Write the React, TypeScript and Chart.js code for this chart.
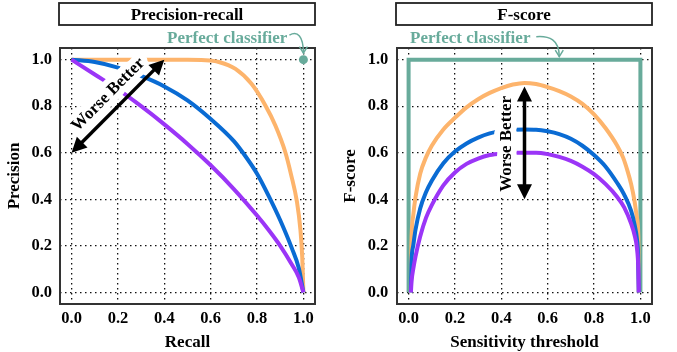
import React, { useEffect, useRef } from 'react';
import { Chart, registerables } from 'chart.js';

Chart.register(...registerables);

// ---------- data ----------
const tickValues = [0, 0.2, 0.4, 0.6, 0.8, 1.0];

// Precision-recall panel
const recallOrange = [0, 0.3, 0.5, 0.56, 0.635, 0.707, 0.776, 0.836, 0.879, 0.922, 0.947, 0.972, 0.987, 0.995, 1.0];
const precisionOrange = [1.0, 1.0, 1.0, 0.998, 0.99, 0.96, 0.896, 0.803, 0.717, 0.602, 0.505, 0.39, 0.27, 0.15, 0.0];
const recallBlue = [0, 0.1, 0.2, 0.3, 0.4, 0.5, 0.6, 0.7, 0.75, 0.8, 0.85, 0.9, 0.95, 0.98, 1.0];
const precisionBlue = [1.0, 0.99, 0.966, 0.93, 0.885, 0.825, 0.745, 0.65, 0.585, 0.51, 0.415, 0.31, 0.19, 0.105, 0.0];
const recallPurple = [0, 0.1, 0.2, 0.3, 0.4, 0.5, 0.6, 0.7, 0.8, 0.85, 0.9, 0.95, 0.98, 1.0];
const precisionPurple = [1.0, 0.936, 0.872, 0.8, 0.722, 0.638, 0.546, 0.444, 0.33, 0.268, 0.2, 0.12, 0.065, 0.0];
const perfectRecall = [1.0];
const perfectPrecision = [1.0];

// F-score panel
const thresholdOrange = [0.01, 0.012, 0.02, 0.03, 0.05, 0.075, 0.1, 0.15, 0.2, 0.25, 0.3, 0.35, 0.4, 0.45, 0.5,
  0.55, 0.6, 0.65, 0.7, 0.75, 0.8, 0.85, 0.9, 0.925, 0.945, 0.96, 0.975, 0.985, 0.991, 0.993];
const fOrange = [0, 0.2, 0.33, 0.41, 0.51, 0.58, 0.63, 0.7, 0.75, 0.795, 0.83, 0.857, 0.878, 0.893, 0.9,
  0.895, 0.882, 0.865, 0.842, 0.81, 0.765, 0.705, 0.63, 0.58, 0.52, 0.465, 0.39, 0.32, 0.24, 0];
const thresholdBlue = [0.01, 0.012, 0.02, 0.03, 0.05, 0.075, 0.1, 0.15, 0.2, 0.25, 0.3, 0.35, 0.4, 0.45, 0.5,
  0.55, 0.6, 0.65, 0.7, 0.75, 0.8, 0.85, 0.9, 0.93, 0.96, 0.975, 0.985, 0.99, 0.993];
const fBlue = [0, 0.12, 0.2, 0.27, 0.36, 0.43, 0.48, 0.555, 0.605, 0.64, 0.665, 0.683, 0.694, 0.699, 0.7,
  0.699, 0.692, 0.68, 0.66, 0.63, 0.59, 0.54, 0.47, 0.42, 0.35, 0.29, 0.23, 0.16, 0];
const thresholdPurple = [0.01, 0.013, 0.02, 0.03, 0.05, 0.075, 0.1, 0.15, 0.2, 0.25, 0.3, 0.35, 0.4, 0.45, 0.5,
  0.55, 0.6, 0.65, 0.7, 0.75, 0.8, 0.85, 0.9, 0.93, 0.96, 0.975, 0.985, 0.991, 0.993];
const fPurple = [0, 0.05, 0.1, 0.155, 0.24, 0.32, 0.375, 0.46, 0.515, 0.552, 0.575, 0.59, 0.597, 0.6, 0.6,
  0.6, 0.594, 0.582, 0.565, 0.54, 0.508, 0.465, 0.41, 0.365, 0.295, 0.245, 0.19, 0.1, 0];
const perfectThreshold = [0, 0, 1, 1];
const perfectF = [0, 1, 1, 0];

// ---------- style ----------
const FONT = "'Liberation Serif', 'Times New Roman', serif";
const ORANGE = '#fdb46c';
const BLUE = '#0a6bd3';
const PURPLE = '#9b35f7';
const TEAL = '#68ab9b';

const toPts = (xs: number[], ys: number[]) => xs.map((x, i) => ({ x, y: ys[i] }));

function curve(xs: number[], ys: number[], color: string) {
  return {
    data: toPts(xs, ys),
    borderColor: color,
    backgroundColor: color,
    borderWidth: 4,
    pointRadius: 0,
    fill: false,
    cubicInterpolationMode: 'monotone',
    borderCapStyle: 'butt',
  };
}

function drawDoubleArrow(ctx: CanvasRenderingContext2D, x0: number, y0: number, x1: number, y1: number) {
  const L = 15, W = 7.5;
  const dx = x1 - x0, dy = y1 - y0;
  const len = Math.hypot(dx, dy);
  const ux = dx / len, uy = dy / len;
  const px = -uy, py = ux;
  ctx.save();
  ctx.strokeStyle = '#000';
  ctx.fillStyle = '#000';
  ctx.lineWidth = 3.5;
  ctx.beginPath();
  ctx.moveTo(x0 + ux * L * 0.8, y0 + uy * L * 0.8);
  ctx.lineTo(x1 - ux * L * 0.8, y1 - uy * L * 0.8);
  ctx.stroke();
  const heads: [number, number, number][] = [[x1, y1, 1], [x0, y0, -1]];
  for (const [tx, ty, s] of heads) {
    const bx = tx - s * ux * L, by = ty - s * uy * L;
    ctx.beginPath();
    ctx.moveTo(tx, ty);
    ctx.lineTo(bx + px * W, by + py * W);
    ctx.lineTo(bx - px * W, by - py * W);
    ctx.closePath();
    ctx.fill();
  }
  ctx.restore();
}

function haloText(ctx: CanvasRenderingContext2D, text: string, cx: number, cy: number, angle: number, ox: number, oy: number) {
  ctx.save();
  ctx.translate(cx, cy);
  ctx.rotate(angle);
  ctx.font = `bold 17px ${FONT}`;
  ctx.textAlign = 'center';
  ctx.textBaseline = 'middle';
  ctx.lineJoin = 'round';
  ctx.lineWidth = 12;
  ctx.strokeStyle = '#fff';
  ctx.strokeText(text, ox, oy);
  ctx.fillStyle = '#000';
  ctx.fillText(text, ox, oy);
  ctx.restore();
}

function frameAndTitle(chart: any, title: string) {
  const { ctx, chartArea } = chart;
  ctx.save();
  ctx.lineWidth = 2;
  ctx.strokeStyle = '#333';
  ctx.strokeRect(chartArea.left, chartArea.top, chartArea.right - chartArea.left, chartArea.bottom - chartArea.top);
  const l = chartArea.left - 1, r = chartArea.right;
  ctx.fillStyle = '#fff';
  ctx.fillRect(l, 3, r - l, 22);
  ctx.lineWidth = 1.8;
  ctx.strokeStyle = '#222';
  ctx.strokeRect(l, 3, r - l, 22);
  ctx.fillStyle = '#000';
  ctx.font = `bold 17px ${FONT}`;
  ctx.textAlign = 'center';
  ctx.textBaseline = 'alphabetic';
  ctx.fillText(title, (l + r) / 2, 20);
  ctx.restore();
}

function tealArrow(ctx: CanvasRenderingContext2D, sx: number, sy: number, c1x: number, c1y: number, c2x: number, c2y: number, tx: number, ty: number) {
  ctx.save();
  ctx.strokeStyle = TEAL;
  ctx.lineWidth = 1.5;
  ctx.beginPath();
  ctx.moveTo(sx, sy);
  ctx.bezierCurveTo(c1x, c1y, c2x, c2y, tx, ty);
  ctx.stroke();
  ctx.beginPath();
  ctx.moveTo(tx - 4, ty - 6.5);
  ctx.lineTo(tx, ty);
  ctx.lineTo(tx + 4, ty - 6.5);
  ctx.stroke();
  ctx.restore();
}

function tealLabel(ctx: CanvasRenderingContext2D, text: string, x: number, y: number, align: CanvasTextAlign) {
  ctx.save();
  ctx.fillStyle = TEAL;
  ctx.font = `bold 17px ${FONT}`;
  ctx.textAlign = align;
  ctx.textBaseline = 'alphabetic';
  ctx.fillText(text, x, y);
  ctx.restore();
}

function baseOptions(padRight: number, yWidth: number, xTitle: string, yTitle: string, yTitlePad: number, yTickPad: number) {
  const tickFont = { family: FONT, size: 16.5, weight: 'bold' };
  const titleFont = { family: FONT, size: 17, weight: 'bold', lineHeight: 1 };
  return {
    responsive: false,
    animation: false,
    devicePixelRatio: 1,
    events: [],
    layout: { padding: { left: 0, right: padRight, top: 48, bottom: 0 } },
    plugins: { legend: { display: false }, tooltip: { enabled: false }, title: { display: false } },
    scales: {
      x: {
        type: 'linear',
        min: -0.05,
        max: 1.05,
        afterBuildTicks: (s: any) => { s.ticks = tickValues.map((v) => ({ value: v })); },
        afterFit: (s: any) => { s.height = 48; },
        ticks: { callback: (v: any) => Number(v).toFixed(1), font: tickFont, color: '#000', padding: 5, maxRotation: 0, autoSkip: false },
        grid: { color: '#111', lineWidth: 1.3, drawTicks: false },
        border: { display: false, dash: [1.5, 3.5] },
        title: { display: true, text: xTitle, font: titleFont, color: '#000', padding: { top: 0, bottom: 1 } },
      },
      y: {
        type: 'linear',
        min: -0.05,
        max: 1.05,
        afterBuildTicks: (s: any) => { s.ticks = tickValues.map((v) => ({ value: v })); },
        afterFit: (s: any) => { s.width = yWidth; },
        ticks: { callback: (v: any) => Number(v).toFixed(1), font: tickFont, color: '#000', padding: yTickPad, autoSkip: false },
        grid: { color: '#111', lineWidth: 1.3, drawTicks: false },
        border: { display: false, dash: [1.5, 3.5] },
        title: { display: true, text: yTitle, font: titleFont, color: '#000', padding: { top: yTitlePad, bottom: 0 } },
      },
    },
  };
}

function prConfig() {
  const annot = {
    id: 'prAnnot',
    afterDatasetsDraw(chart: any) {
      const { ctx, scales: { x, y } } = chart;
      const x0 = x.getPixelForValue(0), y0 = y.getPixelForValue(0.6);
      const x1 = x.getPixelForValue(0.4), y1 = y.getPixelForValue(1.0);
      const ang = Math.atan2(y1 - y0, x1 - x0);
      haloText(ctx, 'Worse Better', (x0 + x1) / 2, (y0 + y1) / 2, ang, 1.4, -15);
      drawDoubleArrow(ctx, x0, y0, x1, y1);
    },
    afterDraw(chart: any) {
      const { ctx, scales: { x, y } } = chart;
      frameAndTitle(chart, 'Precision-recall');
      const ax = x.getPixelForValue(1.0), ay = y.getPixelForValue(1.0);
      tealLabel(ctx, 'Perfect classifier', ax - 16, ay - 16.3, 'right');
      tealArrow(ctx, ax - 14, ay - 24.5, ax - 6, ay - 29, ax, ay - 24, ax, ay - 6.5);
    },
  };
  return {
    type: 'line',
    data: {
      datasets: [
        { data: toPts(perfectRecall, perfectPrecision), showLine: false, pointRadius: 4.5, pointBackgroundColor: TEAL, pointBorderWidth: 0, borderColor: TEAL },
        curve(recallPurple, precisionPurple, PURPLE),
        curve(recallBlue, precisionBlue, BLUE),
        curve(recallOrange, precisionOrange, ORANGE),
      ],
    },
    options: baseOptions(23, 60, 'Recall', 'Precision', 6.5, 8),
    plugins: [annot],
  };
}

function fConfig() {
  const annot = {
    id: 'fAnnot',
    afterDatasetsDraw(chart: any) {
      const { ctx, scales: { x, y } } = chart;
      const x0 = x.getPixelForValue(0.5), y0 = y.getPixelForValue(0.4);
      const x1 = x.getPixelForValue(0.5), y1 = y.getPixelForValue(0.885);
      haloText(ctx, 'Worse Better', (x0 + x1) / 2, (y0 + y1) / 2, -Math.PI / 2, -1, -18);
      drawDoubleArrow(ctx, x0, y0, x1, y1);
    },
    afterDraw(chart: any) {
      const { ctx, scales: { x, y } } = chart;
      frameAndTitle(chart, 'F-score');
      const ay = y.getPixelForValue(1.0);
      tealLabel(ctx, 'Perfect classifier', x.getPixelForValue(0) + 1.5, ay - 16.3, 'left');
      const ax = x.getPixelForValue(0.65);
      tealArrow(ctx, ax - 23, ay - 23, ax - 10, ay - 24, ax, ay - 20, ax, ay - 3);
    },
  };
  return {
    type: 'line',
    data: {
      datasets: [
        curve(thresholdPurple, fPurple, PURPLE),
        curve(thresholdBlue, fBlue, BLUE),
        curve(thresholdOrange, fOrange, ORANGE),
        { data: toPts(perfectThreshold, perfectF), borderColor: TEAL, borderWidth: 4, pointRadius: 0, tension: 0, fill: false, borderJoinStyle: 'miter' },
      ],
    },
    options: baseOptions(25, 59, 'Sensitivity threshold', 'F-score', 4.3, 8.7),
    plugins: [annot],
  };
}

function Panel({ makeConfig, left, width }: { makeConfig: () => any; left: number; width: number }) {
  const ref = useRef<HTMLCanvasElement | null>(null);
  useEffect(() => {
    if (!ref.current) return;
    const chart = new Chart(ref.current, makeConfig());
    return () => chart.destroy();
  }, []);
  return (
    <canvas
      ref={ref}
      width={width}
      height={352}
      style={{ position: 'absolute', left, top: 0, width, height: 352 }}
    />
  );
}

export default function App() {
  return (
    <div style={{ position: 'absolute', left: 0, top: 0, width: 677, height: 352, background: '#fff', overflow: 'hidden' }}>
      <Panel makeConfig={prConfig} left={0} width={338} />
      <Panel makeConfig={fConfig} left={338} width={339} />
    </div>
  );
}
